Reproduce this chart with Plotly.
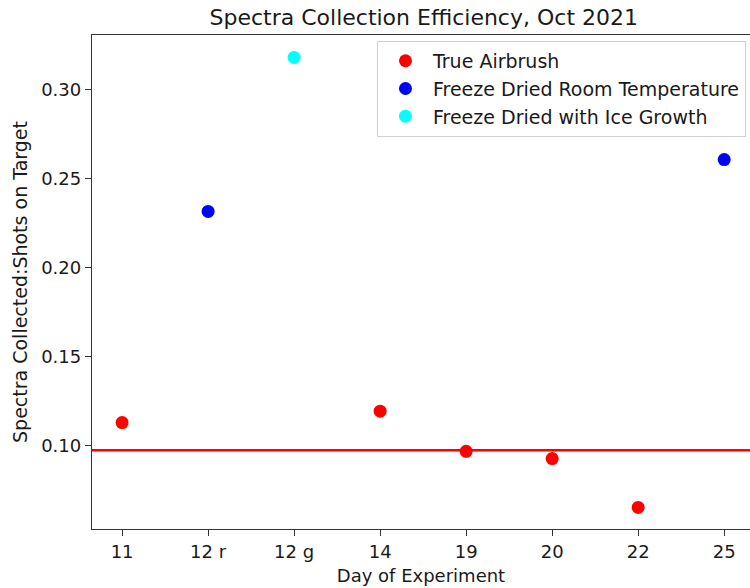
import plotly.graph_objects as go

# Day labels along the x axis
days = ["11", "12 r", "12 g", "14", "19", "20", "22", "25"]

# True airbrush runs
airbrush_days = ["11", "14", "19", "20", "22"]
airbrush_eff = [0.1131, 0.1195, 0.0970, 0.0929, 0.0655]

# Freeze dried, room temperature
room_days = ["12 r", "25"]
room_eff = [0.2316, 0.2607]

# Freeze dried with ice growth
ice_days = ["12 g"]
ice_eff = [0.3180]

y_ticks = [0.10, 0.15, 0.20, 0.25, 0.30]

airbrush_mean = sum(airbrush_eff) / len(airbrush_eff)

FONT = "DejaVu Sans, Liberation Sans, sans-serif"
INK = "#1a1a1a"

fig = go.Figure()

series = [
    ("True Airbrush", airbrush_days, airbrush_eff, "#ff0000"),
    ("Freeze Dried Room Temperature", room_days, room_eff, "#0000ff"),
    ("Freeze Dried with Ice Growth", ice_days, ice_eff, "#00ffff"),
]
for name, xs, ys, color in series:
    fig.add_trace(go.Scatter(
        x=xs, y=ys, mode="markers", name=name, legendgroup=name,
        marker=dict(color=color, size=13, line=dict(width=0)),
    ))

# Horizontal reference at the airbrush average
fig.add_shape(type="line", xref="x domain", yref="y",
              x0=0, x1=1, y0=airbrush_mean, y1=airbrush_mean,
              line=dict(color="#ff0000", width=2.6), layer="below")

fig.update_layout(
    width=750, height=588,
    margin=dict(l=92, r=0, t=35, b=59),
    paper_bgcolor="white", plot_bgcolor="white",
    font=dict(family=FONT, size=18, color=INK),
    title=dict(text="Spectra Collection Efficiency, Oct 2021",
               x=0.565, xanchor="center", y=0.971, yanchor="middle",
               font=dict(family=FONT, size=22, color=INK)),
    showlegend=True,
    legend=dict(x=0.9939, xanchor="right", y=0.988, yanchor="top",
                bgcolor="rgba(255,255,255,0.85)", bordercolor="#d0d0d0",
                borderwidth=1, itemwidth=45, tracegroupgap=0,
                font=dict(family=FONT, size=19, color=INK)),
    xaxis=dict(
        type="category", categoryorder="array", categoryarray=days,
        range=[-0.35, 7.30], showgrid=False, zeroline=False,
        showline=True, linecolor="#333333", linewidth=1.3, mirror=True,
        ticks="outside", ticklen=6, tickcolor="#333333", tickwidth=1.2,
        title=dict(text="Day of Experiment", standoff=8,
                   font=dict(family=FONT, size=18, color=INK)),
        tickfont=dict(family=FONT, size=18, color=INK),
    ),
    yaxis=dict(
        range=[0.0534, 0.3306], tickvals=y_ticks, tickformat=".2f",
        showgrid=False, zeroline=False,
        showline=True, linecolor="#333333", linewidth=1.3, mirror=False,
        ticks="outside", ticklen=6, tickcolor="#333333", tickwidth=1.2,
        title=dict(text="Spectra Collected:Shots on Target", standoff=8,
                   font=dict(family=FONT, size=19, color=INK)),
        tickfont=dict(family=FONT, size=18, color=INK),
    ),
)

fig.write_html("out.html")
